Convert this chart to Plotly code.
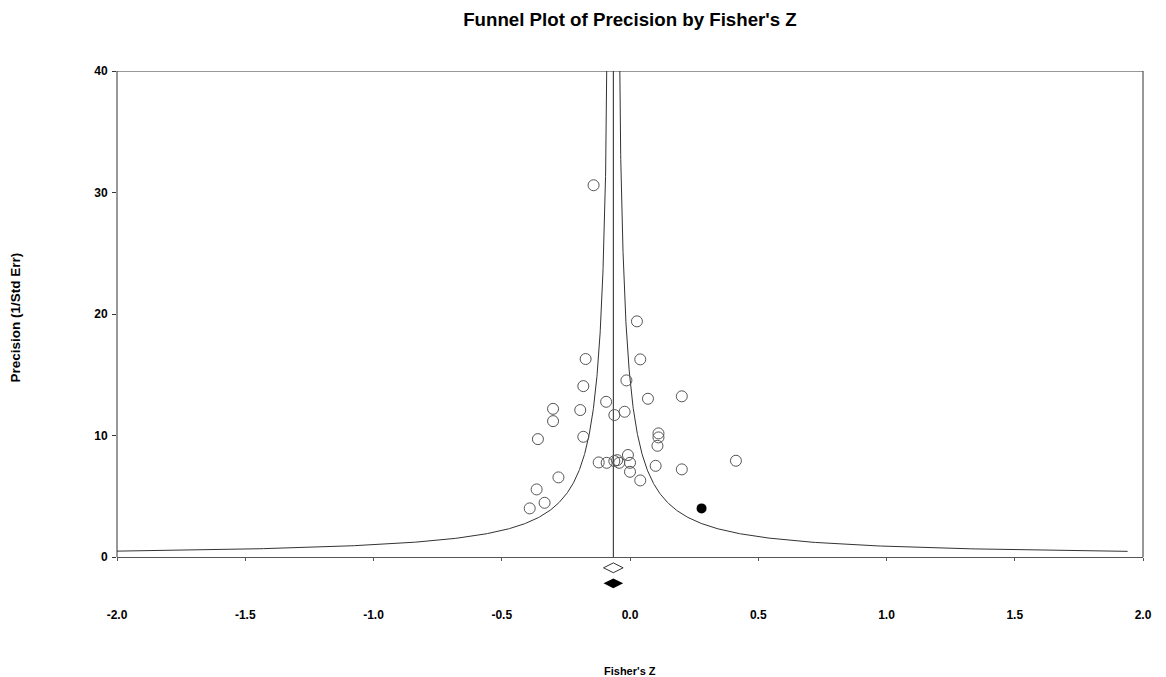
import numpy as np
import plotly.graph_objects as go

# Study effects (Fisher's Z) and precision (1/SE)
study_z = [-0.142, 0.027, -0.173, 0.040, -0.014, -0.182, 0.070, 0.202, -0.093, -0.300,
           -0.194, -0.021, -0.061, -0.300, -0.359, -0.182, 0.111, 0.111, 0.107, 0.413,
           -0.122, -0.091, -0.061, -0.050, -0.042, -0.008, 0.000, 0.000, 0.040, 0.100,
           0.202, -0.279, -0.364, -0.333, -0.391]
study_prec = [30.6, 19.4, 16.3, 16.27, 14.54, 14.07, 13.03, 13.23, 12.78, 12.2,
              12.1, 11.96, 11.69, 11.19, 9.71, 9.90, 10.18, 9.85, 9.16, 7.93,
              7.79, 7.76, 7.90, 7.98, 7.76, 8.40, 7.76, 7.02, 6.31, 7.51,
              7.22, 6.56, 5.57, 4.47, 4.01]

imputed_z = [0.279]
imputed_prec = [4.01]

summary_z = -0.065
summary_open_y = -0.88
summary_filled_y = -2.16

limit_mult = 0.95
left_end_z = -2.0
right_end_z = 1.94

x_ticks = [-2.0, -1.5, -1.0, -0.5, 0.0, 0.5, 1.0, 1.5, 2.0]
y_ticks = [0, 10, 20, 30, 40]
y_min, y_max = -3.2, 40

font_family = "Liberation Sans, Arial, sans-serif"

fig = go.Figure()

# funnel limits
p_left = np.geomspace(limit_mult / (summary_z - left_end_z), 60, 400)
p_right = np.geomspace(limit_mult / (right_end_z - summary_z), 60, 400)
fig.add_trace(go.Scatter(x=summary_z - limit_mult / p_left, y=p_left, mode="lines",
                         line=dict(color="#333333", width=1), showlegend=False, hoverinfo="skip"))
fig.add_trace(go.Scatter(x=summary_z + limit_mult / p_right, y=p_right, mode="lines",
                         line=dict(color="#333333", width=1), showlegend=False, hoverinfo="skip"))

# mean line
fig.add_trace(go.Scatter(x=[summary_z, summary_z], y=[0, y_max], mode="lines",
                         line=dict(color="#222222", width=1), showlegend=False, hoverinfo="skip"))

fig.add_trace(go.Scatter(x=study_z, y=study_prec, mode="markers",
                         marker=dict(symbol="circle-open", size=11, color="#555555",
                                     line=dict(width=1, color="#555555")),
                         showlegend=False))
fig.add_trace(go.Scatter(x=imputed_z, y=imputed_prec, mode="markers",
                         marker=dict(symbol="circle", size=10, color="black"),
                         showlegend=False))
fig.add_trace(go.Scatter(x=[summary_z], y=[summary_open_y], mode="markers",
                         marker=dict(symbol="diamond-wide-open", size=14, color="#333333",
                                     line=dict(width=1, color="#333333")),
                         showlegend=False))
fig.add_trace(go.Scatter(x=[summary_z], y=[summary_filled_y], mode="markers",
                         marker=dict(symbol="diamond-wide", size=14, color="black"),
                         showlegend=False))

frame = dict(type="line", line=dict(color="#333333", width=1), layer="above")
shapes = [
    dict(frame, xref="paper", yref="y", x0=0, x1=1, y0=y_max, y1=y_max),
    dict(frame, xref="paper", yref="y", x0=0, x1=0, y0=0, y1=y_max),
    dict(frame, xref="paper", yref="y", x0=1, x1=1, y0=0, y1=y_max),
]

fig.update_layout(
    width=1166, height=677,
    margin=dict(l=117, r=23, t=71, b=81),
    paper_bgcolor="white", plot_bgcolor="white",
    font=dict(family=font_family, color="black"),
    title=dict(text="<b>Funnel Plot of Precision by Fisher's Z</b>", x=0.5, xref="paper",
               xanchor="center", y=1 - 19 / 677, yanchor="middle",
               font=dict(size=18.7, family=font_family, color="black")),
    xaxis=dict(range=[-2.0, 2.0], tickvals=x_ticks, ticktext=[f"<b>{v:.1f}</b>" for v in x_ticks],
               showgrid=False, zeroline=False, showline=True, linecolor="#555555", linewidth=1,
               anchor="free", position=(0 - y_min) / (y_max - y_min),
               ticks="outside", ticklen=3, tickcolor="#555555",
               ticklabelstandoff=43, tickfont=dict(size=12)),
    yaxis=dict(range=[y_min, y_max], tickvals=y_ticks, ticktext=[f"<b>{v}</b>" for v in y_ticks],
               showgrid=False, zeroline=False, showline=False,
               ticks="outside", ticklen=4, tickcolor="#333333",
               ticklabelstandoff=2, tickfont=dict(size=12)),
    shapes=shapes,
    annotations=[
        dict(text="<b>Fisher's Z</b>", x=0.5, xref="paper", y=-75 / 525, yref="paper",
             xanchor="center", yanchor="middle", showarrow=False,
             font=dict(size=11, family=font_family, color="black")),
        dict(text="<b>Precision (1/Std Err)</b>", x=-102 / 1026, xref="paper", y=0.5 + 16 / 525,
             yref="paper", xanchor="center", yanchor="middle", showarrow=False, textangle=-90,
             font=dict(size=13.5, family=font_family, color="black")),
    ],
)

fig.write_html("out.html", config={"displayModeBar": False},
               post_script="document.body.style.margin='0';")
